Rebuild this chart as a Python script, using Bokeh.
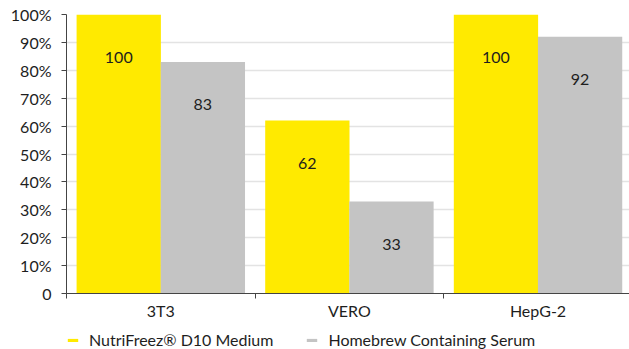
import numpy as np
from bokeh.plotting import figure
from bokeh.layouts import column
from bokeh.models import (ColumnDataSource, Range1d, FixedTicker, Legend, LegendItem)
from bokeh.core.properties import value
from bokeh.embed import file_html
from bokeh.resources import INLINE

categories = ["3T3", "VERO", "HepG-2"]
nutrifreez = [100, 62, 100]
homebrew = [83, 33, 92]
series_names = ["NutriFreez\u00ae D10 Medium", "Homebrew Containing Serum"]
y_ticks = [0, 10, 20, 30, 40, 50, 60, 70, 80, 90, 100]
y_tick_labels = ["0", "10%", "20%", "30%", "40%", "50%", "60%", "70%", "80%", "90%", "100%"]

FONT = "Lato"
YELLOW = "#FFEA00"
GRAY = "#C4C4C4"
TEXT = "#1E1E1E"

idx = np.arange(len(categories))
centers = [float(c) for c in idx + 0.5]
off = 0.223
bw = 0.447

src_a = ColumnDataSource(dict(x=[c - off for c in centers], top=nutrifreez, lab=[str(v) for v in nutrifreez]))
src_b = ColumnDataSource(dict(x=[c + off for c in centers], top=homebrew, lab=[str(v) for v in homebrew]))

p = figure(width=629, height=322, output_backend="svg", toolbar_location=None,
           x_range=Range1d(0, 2.985), y_range=Range1d(0, 100),
           min_border_left=66, min_border_right=0, min_border_top=14, min_border_bottom=26)
p.outline_line_color = None
p.background_fill_color = "white"

ra = p.vbar(x="x", top="top", width=bw, source=src_a, fill_color=YELLOW, line_color=None)
rb = p.vbar(x="x", top="top", width=bw, source=src_b, fill_color=GRAY, line_color=None)

for s in (src_a, src_b):
    p.text(x="x", y="top", text="lab", source=s, text_align="center", text_baseline="middle",
           y_offset=43, text_font=value(FONT), text_font_size="16px", text_color=TEXT)

# x axis
p.xaxis.ticker = FixedTicker(ticks=centers, minor_ticks=[float(i) for i in range(len(categories) + 1)])
p.xaxis.major_label_overrides = {c: n for c, n in zip(centers, categories)}
p.xaxis.major_tick_out = 0
p.xaxis.major_tick_in = 0
p.xaxis.minor_tick_out = 5
p.xaxis.minor_tick_in = 0
p.xaxis.minor_tick_line_color = "#444444"
p.xaxis.axis_line_color = "#444444"
p.xaxis.major_label_text_font = FONT
p.xaxis.major_label_text_font_size = "16px"
p.xaxis.major_label_text_color = TEXT
p.xaxis.major_label_standoff = 2
p.xgrid.grid_line_color = None

# y axis
p.yaxis.ticker = FixedTicker(ticks=y_ticks)
p.yaxis.major_label_overrides = {t: l for t, l in zip(y_ticks, y_tick_labels)}
p.yaxis.major_tick_out = 5
p.yaxis.major_tick_in = 0
p.yaxis.minor_tick_line_color = None
p.yaxis.axis_line_color = "#444444"
p.yaxis.major_tick_line_color = "#444444"
p.yaxis.major_label_text_font = FONT
p.yaxis.major_label_text_font_size = "16px"
p.yaxis.major_label_text_color = TEXT
p.yaxis.major_label_standoff = 10
p.ygrid.grid_line_color = "#E3E3E3"
p.ygrid.grid_line_width = 1.5
p.ygrid.level = "underlay"

# legend strip below the chart (same series renderers, drawn out of view)
lg = figure(width=629, height=27, output_backend="svg", toolbar_location=None,
            x_range=Range1d(10, 11), y_range=Range1d(500, 501),
            x_axis_location=None, y_axis_location=None, min_border=0)
lg.outline_line_color = None
lg.xgrid.grid_line_color = None
lg.ygrid.grid_line_color = None
la = lg.vbar(x="x", top="top", width=bw, source=src_a, fill_color=YELLOW, line_color=None)
lb = lg.vbar(x="x", top="top", width=bw, source=src_b, fill_color=GRAY, line_color=None)
legend = Legend(items=[LegendItem(label=series_names[0], renderers=[la]),
                       LegendItem(label=series_names[1], renderers=[lb])],
                orientation="horizontal", border_line_color=None, background_fill_alpha=0,
                glyph_width=13, glyph_height=4, label_height=18, label_text_font=FONT,
                label_text_font_size="16px", label_text_color=TEXT, label_text_baseline="middle",
                spacing=32, padding=0, margin=0, label_standoff=10,
                location=(0, 0))
lg.add_layout(legend, "center")

open("out.html", "w").write(file_html(column(p, lg, spacing=0), INLINE))
